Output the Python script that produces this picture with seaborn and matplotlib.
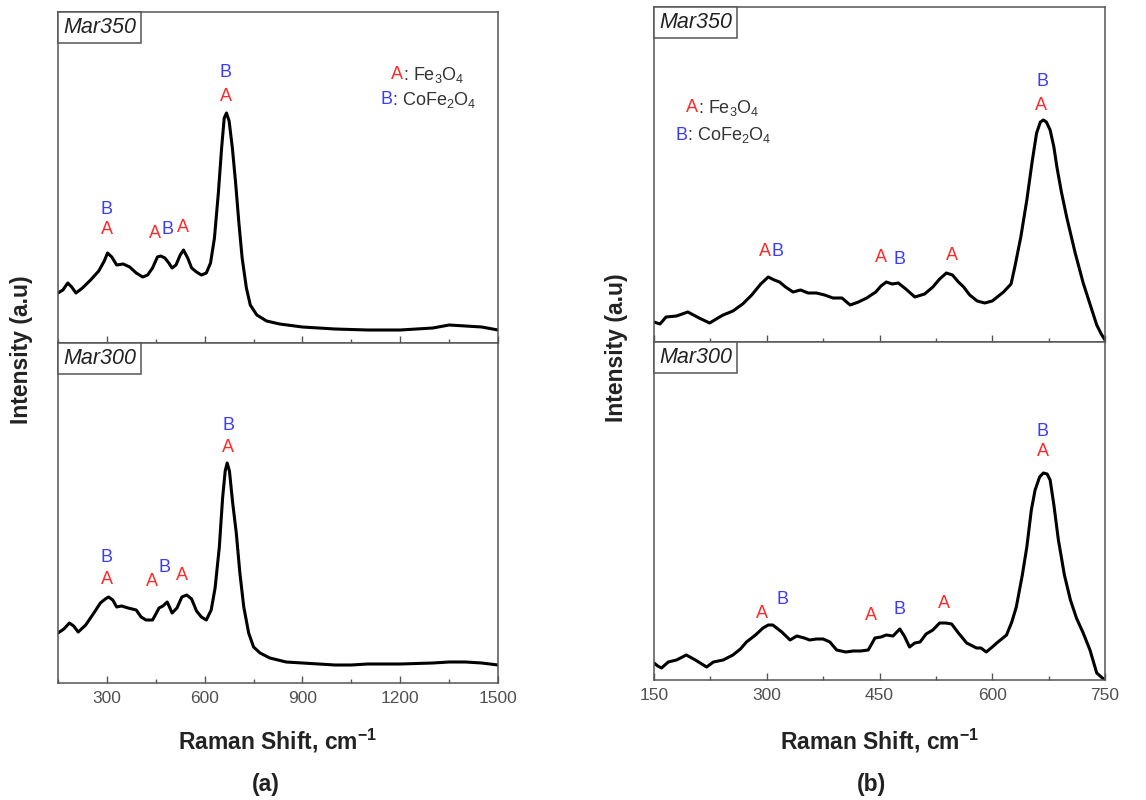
import matplotlib
matplotlib.use("Agg")
import matplotlib.pyplot as plt
import seaborn as sns
import pandas as pd
from matplotlib.ticker import MultipleLocator

# ---------------- data ----------------
# Panel (a) : 150-1500 cm-1
a350_x = [150, 165, 180, 192, 205, 225, 250, 275, 292, 302, 315, 330, 350, 370, 390, 410, 425, 440, 455, 465, 478, 490, 500, 512, 525, 535, 548, 560, 575, 590, 605, 618, 630, 642, 652, 660, 667, 675, 685, 695, 705, 715, 728, 740, 760, 790, 830, 900, 1000, 1100, 1200, 1300, 1350, 1400, 1450, 1500]
a350_y = [50, 53, 60, 56, 50, 55, 63, 72, 82, 90, 86, 78, 79, 76, 70, 66, 68, 75, 86, 87, 85, 80, 75, 78, 88, 93, 85, 75, 71, 68, 70, 80, 105, 150, 195, 225, 230, 222, 195, 160, 120, 85, 55, 38, 28, 22, 19, 16, 14, 13, 13, 15, 18, 17, 16, 13]

a300_x = [150, 168, 185, 198, 212, 235, 260, 280, 295, 305, 318, 330, 345, 365, 390, 405, 420, 440, 452, 460, 472, 485, 492, 500, 515, 530, 545, 560, 575, 590, 605, 620, 632, 645, 655, 663, 669, 676, 686, 697, 708, 720, 735, 750, 770, 800, 850, 900, 1000, 1050, 1100, 1200, 1300, 1350, 1400, 1450, 1500]
a300_y = [50, 54, 60, 57, 51, 58, 70, 80, 84, 86, 83, 76, 77, 75, 73, 66, 63, 63, 70, 75, 77, 81, 76, 70, 75, 86, 88, 84, 72, 66, 63, 73, 95, 136, 185, 212, 220, 212, 180, 150, 110, 76, 50, 36, 30, 25, 21, 20, 18, 18, 19, 19, 20, 21, 21, 20, 18]

# Panel (b) : 150-750 cm-1
b350_x = [150, 158, 166, 180, 195, 210, 224, 235, 242, 255, 268, 280, 292, 302, 310, 317, 325, 335, 345, 355, 366, 377, 388, 400, 411, 422, 433, 445, 452, 459, 467, 475, 485, 497, 510, 521, 530, 539, 547, 555, 562, 570, 580, 590, 600, 615, 625, 630, 638, 646, 653, 659, 664, 668, 672, 677, 682, 686, 692, 699, 710, 721, 730, 739, 745, 750]
b350_y = [20, 18, 25, 26, 30, 24, 19, 24, 27, 31, 38, 47, 58, 65, 62, 60, 55, 50, 52, 49, 49, 47, 44, 44, 37, 40, 44, 50, 56, 60, 58, 59, 53, 45, 48, 55, 63, 69, 67, 60, 55, 47, 41, 39, 41, 50, 58, 75, 105, 142, 180, 209, 220, 222, 220, 212, 195, 175, 150, 125, 90, 59, 38, 17, 8, 2]

b300_x = [150, 155, 160, 169, 180, 193, 205, 220, 229, 242, 255, 265, 273, 285, 295, 302, 308, 320, 331, 340, 350, 357, 366, 375, 384, 393, 405, 415, 425, 435, 444, 452, 459, 468, 477, 483, 490, 497, 504, 512, 521, 530, 538, 546, 555, 566, 579, 585, 592, 600, 606, 619, 626, 632, 640, 646, 652, 657, 663, 668, 673, 677, 682, 688, 696, 704, 712, 721, 730, 739, 745, 750]
b300_y = [17, 14, 12, 18, 20, 25, 20, 13, 18, 20, 25, 31, 38, 45, 52, 55, 55, 48, 40, 44, 42, 40, 41, 41, 38, 30, 28, 29, 29, 30, 42, 43, 45, 44, 51, 44, 33, 37, 38, 46, 50, 57, 57, 56, 47, 37, 32, 32, 28, 33, 37, 45, 58, 73, 105, 133, 170, 190, 203, 207, 206, 200, 175, 140, 105, 80, 62, 47, 30, 7, 3, 0]

# Peak labels: (x, y, letter)
a350_labels = [(300, 133, "B"), (300, 113, "A"), (446, 110, "A"), (486, 114, "B"), (534, 115, "A"), (664, 270, "B"), (664, 246, "A")]
a300_labels = [(300, 125, "B"), (300, 103, "A"), (438, 101, "A"), (478, 116, "B"), (530, 108, "A"), (673, 258, "B"), (673, 236, "A")]
b350_labels = [(297, 90, "A"), (314, 90, "B"), (452, 84, "A"), (477, 83, "B"), (546, 87, "A"), (667, 260, "B"), (665, 237, "A")]
b300_labels = [(294, 67, "A"), (321, 80, "B"), (439, 65, "A"), (476, 71, "B"), (536, 77, "A"), (667, 248, "B"), (667, 228, "A")]

phase_letters = ["A", "B"]
phase_names = [": Fe$_{3}$O$_{4}$", ": CoFe$_{2}$O$_{4}$"]
sample_names = ["Mar350", "Mar300"]
panel_tags = ["(a)", "(b)"]
x_label = "Raman Shift, cm$^{\\mathbf{-1}}$"
y_label = "Intensity (a.u)"

# ---------------- style ----------------
sns.set_theme(style="white")
plt.rcParams["font.family"] = ["Liberation Sans", "DejaVu Sans"]
plt.rcParams["mathtext.fontset"] = "custom"
plt.rcParams["mathtext.rm"] = "Liberation Sans"
plt.rcParams["mathtext.it"] = "Liberation Sans:italic"
plt.rcParams["mathtext.bf"] = "Liberation Sans:bold"

RED = "#ff2a2a"
BLUE = "#3b3bff"
GRAY = "#505050"
SPINE = "#555555"
col = {"A": RED, "B": BLUE}

fig = plt.figure(figsize=(11.46, 8.0), dpi=100)

# axes rectangles [left, bottom, width, height] in figure fractions
rects = {
    ("a", 0): [58 / 1146, 1 - 343 / 800, 440 / 1146, 331 / 800],
    ("a", 1): [58 / 1146, 1 - 683 / 800, 440 / 1146, 340 / 800],
    ("b", 0): [654 / 1146, 1 - 342 / 800, 451 / 1146, 335 / 800],
    ("b", 1): [654 / 1146, 1 - 680 / 800, 451 / 1146, 338 / 800],
}
ylims = {("a", 0): 331, ("a", 1): 340, ("b", 0): 335, ("b", 1): 338}
series = {
    ("a", 0): (a350_x, a350_y, a350_labels),
    ("a", 1): (a300_x, a300_y, a300_labels),
    ("b", 0): (b350_x, b350_y, b350_labels),
    ("b", 1): (b300_x, b300_y, b300_labels),
}
xcfg = {"a": (150, 1500, 300, 150), "b": (150, 750, 150, 75)}

BOX_FS = 15.5
BOX_PAD = 0.22

for (p, r), rect in rects.items():
    ax = fig.add_axes(rect)
    xs, ys, labs = series[(p, r)]
    df = pd.DataFrame({"x": xs, "y": ys})
    sns.lineplot(data=df, x="x", y="y", ax=ax, color="black", lw=2.2,
                 sort=False, estimator=None)
    lo, hi, maj, mnr = xcfg[p]
    ax.set_xlim(lo, hi)
    ax.set_ylim(0, ylims[(p, r)])
    ax.xaxis.set_major_locator(MultipleLocator(maj))
    ax.xaxis.set_minor_locator(MultipleLocator(mnr))
    ax.tick_params(axis="x", which="major", direction="in", length=5, width=1,
                   color=SPINE, labelsize=12.5, labelcolor=GRAY, pad=6, bottom=True)
    ax.tick_params(axis="x", which="minor", direction="in", length=3, width=1,
                   color=SPINE, bottom=True)
    ax.set_yticks([])
    ax.set_xlabel("")
    ax.set_ylabel("")
    if r == 0:
        ax.tick_params(axis="x", which="both", labelbottom=False)
    for s in ax.spines.values():
        s.set_color(SPINE)
        s.set_linewidth(1.1)
    # sample box, anchored inside the top-left corner
    off = BOX_PAD * BOX_FS + 0.3
    ax.annotate(sample_names[r], xy=(0.0, 1.0), xycoords="axes fraction",
                xytext=(off, -off), textcoords="offset points",
                ha="left", va="top", fontsize=BOX_FS, style="italic", color="#222222",
                bbox=dict(boxstyle="square,pad=%.2f" % BOX_PAD, fc="white", ec=SPINE, lw=1.1))
    # peak labels
    for (lx, ly, lt) in labs:
        ax.text(lx, ly, lt, color=col[lt], fontsize=13, ha="center", va="center")
    # phase legend on top panels
    if r == 0:
        if p == "a":
            anchors = [(1209, 268), (1176, 243)]
        else:
            anchors = [(208, 234), (194, 207)]
        for (ax_x, ax_y), let, name in zip(anchors, phase_letters, phase_names):
            ax.text(ax_x, ax_y, let, color=col[let], fontsize=13, ha="right", va="center")
            ax.text(ax_x, ax_y, name, color="#333333", fontsize=13, ha="left", va="center")

# Figure-level labels
fig.text(278 / 1146, 1 - 741 / 800, x_label, ha="center", va="center",
         fontsize=16.5, fontweight="bold", color="#222222")
fig.text(880 / 1146, 1 - 741 / 800, x_label, ha="center", va="center",
         fontsize=16.5, fontweight="bold", color="#222222")
fig.text(22 / 1146, 1 - 350 / 800, y_label, ha="center", va="center", rotation=90,
         fontsize=16.5, fontweight="bold", color="#222222")
fig.text(616 / 1146, 1 - 348 / 800, y_label, ha="center", va="center", rotation=90,
         fontsize=16.5, fontweight="bold", color="#222222")
fig.text(266 / 1146, 1 - 785 / 800, panel_tags[0], ha="center", va="center",
         fontsize=16.5, fontweight="bold", color="#222222")
fig.text(872 / 1146, 1 - 785 / 800, panel_tags[1], ha="center", va="center",
         fontsize=16.5, fontweight="bold", color="#222222")

fig.savefig("out.png", dpi=100, facecolor="white")
